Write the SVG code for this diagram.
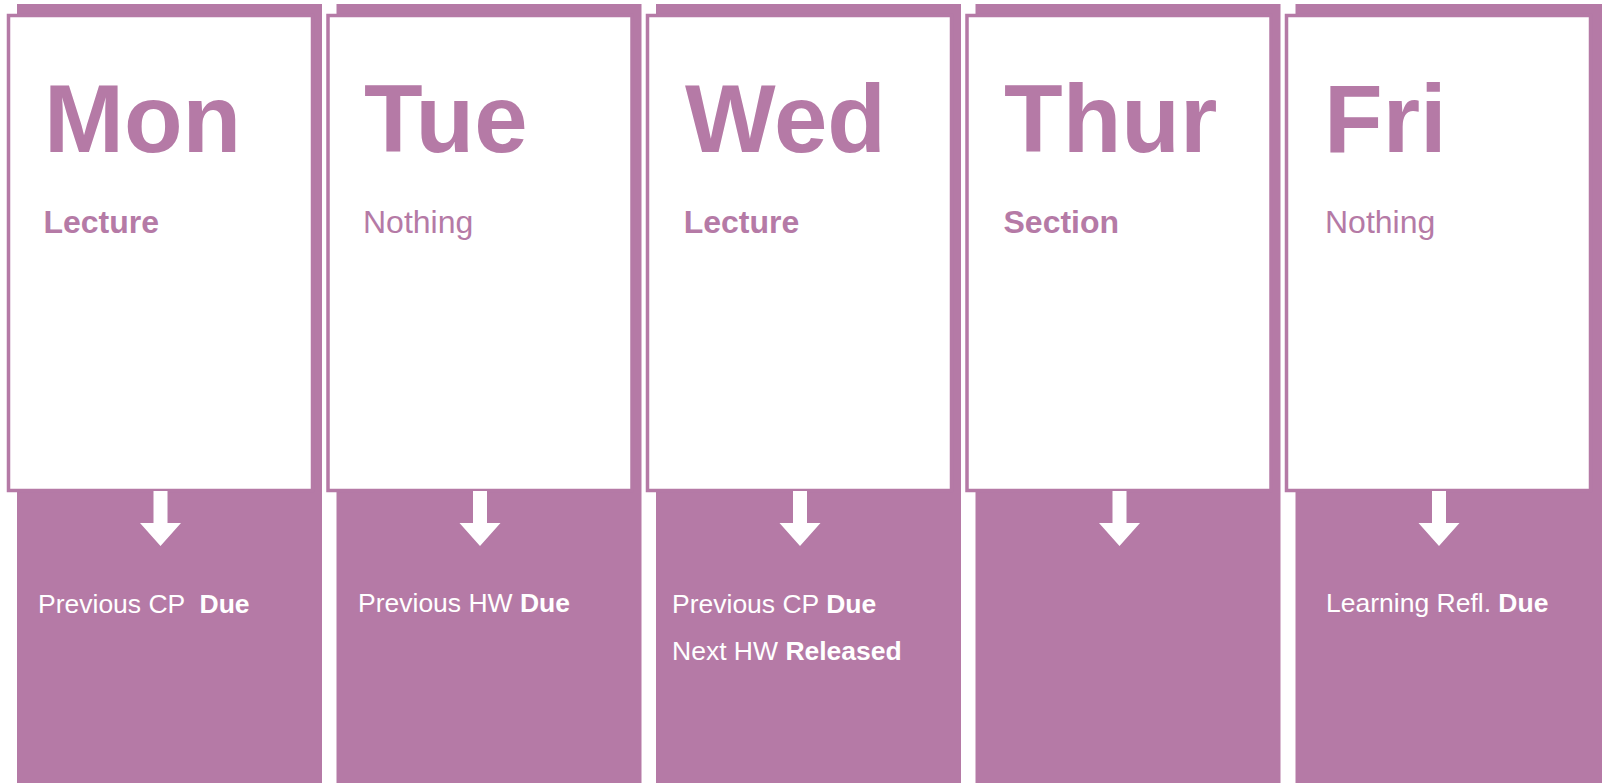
<svg xmlns="http://www.w3.org/2000/svg" width="1602" height="783" viewBox="0 0 1602 783">
  <style>
    .bg { fill: #B57AA6; }
    .card { fill: #FFFFFF; stroke: #B57AA6; stroke-width: 3.5; }
    .day { font-family: "Liberation Sans", Arial, Helvetica, sans-serif; font-weight: bold; font-size: 96px; fill: #B57AA6; }
    .what { font-family: "Liberation Sans", Arial, Helvetica, sans-serif; font-size: 32px; fill: #B57AA6; }
    .what.b { font-weight: bold; }
    .task { font-family: "Liberation Sans", Arial, Helvetica, sans-serif; font-size: 26.5px; fill: #FFFFFF; }
    .task tspan.b { font-weight: bold; }
    .arrow { fill: #FFFFFF; }
  </style>

  <rect width="1602" height="783" fill="#FFFFFF"/>

  <!-- Monday -->
  <g id="mon">
    <rect class="bg" x="17" y="4" width="305" height="779"/>
    <rect class="card" x="8.5" y="15.5" width="304" height="475"/>
    <text class="day" x="44" y="152">Mon</text>
    <text class="what b" x="43.4" y="233">Lecture</text>
    <text class="task" x="38" y="612.5" xml:space="preserve">Previous CP  <tspan class="b">Due</tspan></text>
  </g>

  <!-- Tuesday -->
  <g id="tue">
    <rect class="bg" x="336.5" y="4" width="305" height="779"/>
    <rect class="card" x="328" y="15.5" width="304" height="475"/>
    <text class="day" x="364" y="152">Tue</text>
    <text class="what" x="363" y="233">Nothing</text>
    <text class="task" x="358" y="612">Previous HW <tspan class="b">Due</tspan></text>
  </g>

  <!-- Wednesday -->
  <g id="wed">
    <rect class="bg" x="656" y="4" width="305" height="779"/>
    <rect class="card" x="647.5" y="15.5" width="304" height="475"/>
    <text class="day" x="685" y="152">Wed</text>
    <text class="what b" x="683.7" y="233">Lecture</text>
    <text class="task" x="672" y="612.5">Previous CP <tspan class="b">Due</tspan></text>
    <text class="task" x="672" y="660">Next HW <tspan class="b">Released</tspan></text>
  </g>

  <!-- Thursday -->
  <g id="thur">
    <rect class="bg" x="975.5" y="4" width="305" height="779"/>
    <rect class="card" x="967" y="15.5" width="304" height="475"/>
    <text class="day" x="1004" y="152">Thur</text>
    <text class="what b" x="1003.5" y="233">Section</text>
  </g>

  <!-- Friday -->
  <g id="fri">
    <rect class="bg" x="1295.5" y="4" width="306.5" height="779"/>
    <rect class="card" x="1286.5" y="15.5" width="304" height="475"/>
    <text class="day" x="1324" y="152">Fri</text>
    <text class="what" x="1325" y="233">Nothing</text>
    <text class="task" x="1326" y="612">Learning Refl. <tspan class="b">Due</tspan></text>
  </g>

  <!-- Down arrows from each card into its task column -->
  <g id="connectors">
    <polygon class="arrow" points="153.5,491 167.5,491 167.5,523 181,523 160.5,546 140,523 153.5,523"/>
    <polygon class="arrow" points="473,491 487,491 487,523 500.5,523 480,546 459.5,523 473,523"/>
    <polygon class="arrow" points="793,491 807,491 807,523 820.5,523 800,546 779.5,523 793,523"/>
    <polygon class="arrow" points="1112.5,491 1126.5,491 1126.5,523 1140,523 1119.5,546 1099,523 1112.5,523"/>
    <polygon class="arrow" points="1432,491 1446,491 1446,523 1459.5,523 1439,546 1418.5,523 1432,523"/>
  </g>
</svg>
